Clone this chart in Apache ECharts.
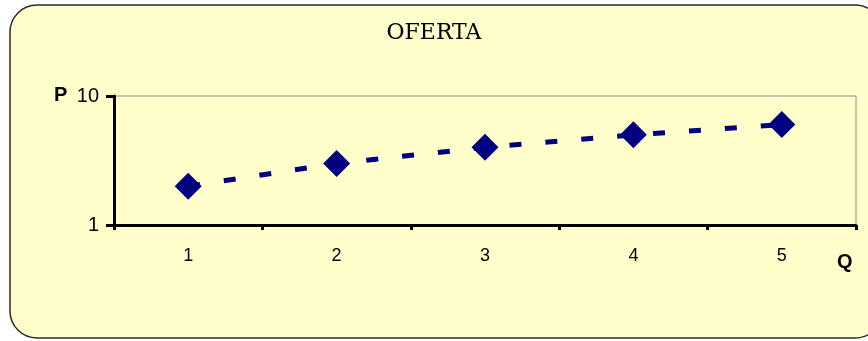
<!DOCTYPE html>
<html>
<head>
<meta charset="utf-8">
<script src="https://cdn.jsdelivr.net/npm/echarts@6/dist/echarts.min.js"></script>
<style>
  html, body { margin: 0; padding: 0; background: #ffffff; }
  #chart { width: 868px; height: 341px; }
</style>
</head>
<body>
<div id="chart"></div>
<script>
// Supply curve: quantity Q against price P (log scale)
const quantities = ['1', '2', '3', '4', '5'];
const prices = [2, 3, 4, 5, 6];
const titleText = 'OFERTA';
const yName = 'P';
const xName = 'Q';

const chart = echarts.init(document.getElementById('chart'), null, { renderer: 'canvas' });

chart.setOption({
  animation: false,
  backgroundColor: '#ffffff',
  title: {
    text: titleText,
    left: 'center',
    top: 17,
    textStyle: {
      fontFamily: 'DejaVu Serif',
      fontWeight: 'normal',
      fontSize: 22,
      color: '#000000'
    }
  },
  graphic: [
    {
      type: 'rect',
      z: -10,
      silent: true,
      shape: { x: 10, y: 5, width: 872, height: 333, r: 27 },
      style: { fill: '#FFFFCC', stroke: '#2b2b2b', lineWidth: 1.5 }
    },
    {
      type: 'text',
      left: 54, top: 85,
      style: { text: yName, font: 'bold 20px "Liberation Sans"', fill: '#000000' }
    },
    {
      type: 'text',
      left: 837, top: 252,
      style: { text: xName, font: 'bold 20px "Liberation Sans"', fill: '#000000' }
    }
  ],
  grid: {
    left: 114,
    right: 12,
    top: 96,
    bottom: 116,
    show: true,
    backgroundColor: 'transparent',
    borderColor: '#8c8c8c',
    borderWidth: 1
  },
  xAxis: {
    type: 'category',
    data: quantities,
    boundaryGap: true,
    axisLine: { lineStyle: { color: '#000000', width: 3 } },
    axisTick: { show: true, length: 5, lineStyle: { color: '#000000', width: 3 } },
    axisLabel: {
      show: true,
      margin: 22,
      fontFamily: 'Liberation Sans',
      fontSize: 18,
      color: '#000000'
    },
    splitLine: { show: false }
  },
  yAxis: {
    type: 'log',
    logBase: 10,
    min: 1,
    max: 10,
    axisLine: { show: true, lineStyle: { color: '#000000', width: 3 } },
    axisTick: { show: true, length: 8, lineStyle: { color: '#000000', width: 3 } },
    minorTick: { show: false },
    axisLabel: {
      margin: 15,
      fontFamily: 'Liberation Sans',
      fontSize: 20,
      color: '#000000'
    },
    splitLine: { show: false }
  },
  series: [
    {
      type: 'line',
      data: prices,
      symbol: 'diamond',
      symbolSize: [27, 27],
      itemStyle: { color: '#000080' },
      lineStyle: { color: '#000080', width: 5, type: [12, 24] }
    }
  ]
});
</script>
</body>
</html>
